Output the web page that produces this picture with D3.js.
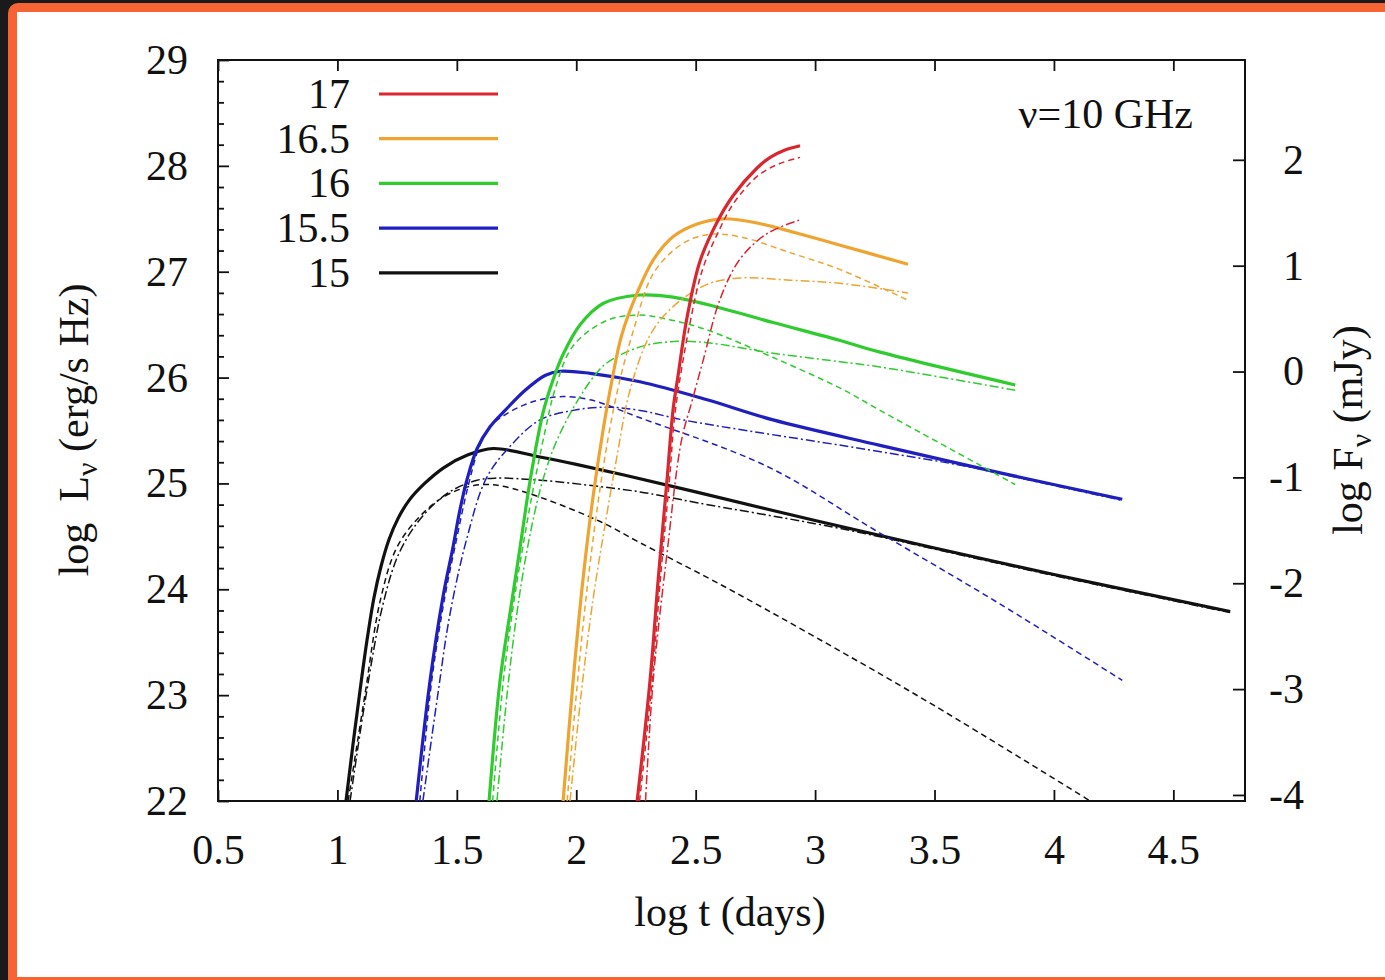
<!DOCTYPE html>
<html lang="en">
<head>
<meta charset="UTF-8">
<title>Radio light curves, nu = 10 GHz</title>
<script src="https://cdnjs.cloudflare.com/ajax/libs/d3/7.8.5/d3.min.js"></script>
<style>
    body { margin: 0; background: #1a1a1a; }
    svg text { font-family: "Liberation Serif", "Times New Roman", serif; fill: #111; }
    .axis text { font-size: 42px; }
    .axis line { stroke: #111; stroke-width: 1.8px; }
</style>
</head>
<body>
<svg id="chart" width="1385" height="980"></svg>
<script>
// legend labels (top to bottom) and x / y tick values
const models = ["17", "16.5", "16", "15.5", "15"];
const xTicks = [0.5, 1, 1.5, 2, 2.5, 3, 3.5, 4, 4.5];
const yTicks = [22, 23, 24, 25, 26, 27, 28, 29];
const y2Ticks = [-4, -3, -2, -1, 0, 1, 2];

// curves: [log t, log L]
const m15_solid = [[1.036,22.0],[1.065,22.53],[1.095,23.05],[1.124,23.52],[1.153,23.92],[1.183,24.22],[1.216,24.47],[1.254,24.67],[1.3,24.84],[1.363,24.995],[1.446,25.15],[1.547,25.27],[1.652,25.33],[1.848,25.25],[2.0,25.18],[2.2,25.08],[2.5,24.92],[3.0,24.65],[3.5,24.39],[4.0,24.14],[4.738,23.79]];
const m15_dash = [[1.045,22.0],[1.115,23.0],[1.18,23.9],[1.25,24.4],[1.35,24.7],[1.45,24.88],[1.55,24.97],[1.626,24.99],[1.7,24.97],[1.848,24.87],[2.1,24.64],[2.267,24.44],[2.6,24.05],[3.0,23.55],[3.5,22.9],[4.152,22.0]];
const m15_dot = [[1.053,22.0],[1.12,23.0],[1.19,23.85],[1.26,24.35],[1.36,24.7],[1.47,24.92],[1.585,25.03],[1.66,25.05],[1.85,25.03],[2.1,24.97],[2.267,24.92],[2.5,24.82],[3.0,24.62],[3.285,24.49],[3.5,24.38],[4.0,24.13],[4.738,23.78]];

const m155_solid = [[1.33,22.0],[1.388,23.14],[1.442,23.93],[1.484,24.4],[1.513,24.75],[1.543,25.04],[1.585,25.33],[1.639,25.535],[1.702,25.69],[1.786,25.88],[1.869,26.02],[1.932,26.06],[2.058,26.04],[2.267,25.96],[2.548,25.79],[2.824,25.6],[3.272,25.36],[3.775,25.1],[4.286,24.85]];
const m155_dash = [[1.345,22.0],[1.395,23.14],[1.45,23.93],[1.492,24.4],[1.55,25.0],[1.6,25.38],[1.65,25.56],[1.71,25.66],[1.78,25.74],[1.848,25.79],[1.932,25.82],[2.058,25.79],[2.267,25.62],[2.8,25.16],[3.25,24.56],[3.775,23.86],[4.286,23.14]];
const m155_dot = [[1.358,22.0],[1.42,23.0],[1.47,23.75],[1.543,24.49],[1.626,25.06],[1.735,25.38],[1.848,25.6],[1.987,25.69],[2.129,25.72],[2.267,25.69],[2.447,25.6],[3.218,25.32],[3.637,25.16],[3.8,25.08],[4.286,24.84]];

const m16_solid = [[1.635,22.0],[1.681,23.14],[1.723,23.78],[1.765,24.4],[1.807,25.03],[1.861,25.67],[1.903,25.98],[1.945,26.22],[2.016,26.5],[2.112,26.7],[2.267,26.78],[2.405,26.76],[2.548,26.69],[2.824,26.52],[3.105,26.35],[3.272,26.24],[3.838,25.93]];
const m16_dash = [[1.65,22.0],[1.695,23.14],[1.74,23.9],[1.78,24.45],[1.82,24.95],[1.87,25.5],[1.91,25.88],[1.987,26.3],[2.129,26.54],[2.267,26.59],[2.405,26.54],[2.548,26.45],[2.824,26.19],[3.105,25.9],[3.272,25.69],[3.838,24.99]];
const m16_dot = [[1.668,22.0],[1.71,23.0],[1.75,23.75],[1.794,24.37],[1.85,24.95],[1.903,25.32],[1.96,25.6],[2.016,25.82],[2.07,26.0],[2.129,26.14],[2.267,26.29],[2.405,26.34],[2.548,26.33],[2.824,26.23],[3.105,26.15],[3.272,26.1],[3.838,25.88]];

const m165_solid = [[1.945,22.0],[1.987,23.14],[2.028,24.09],[2.07,24.87],[2.112,25.5],[2.15,25.98],[2.19,26.4],[2.255,26.8],[2.322,27.11],[2.405,27.33],[2.506,27.45],[2.615,27.5],[2.757,27.46],[3.105,27.25],[3.389,27.07]];
const m165_dash = [[1.962,22.0],[2.0,23.0],[2.045,24.0],[2.09,24.8],[2.135,25.45],[2.18,25.95],[2.24,26.45],[2.322,26.98],[2.435,27.25],[2.548,27.35],[2.686,27.33],[2.895,27.18],[3.105,27.02],[3.389,26.73]];
const m165_dot = [[1.974,22.0],[2.02,23.0],[2.07,23.9],[2.12,24.6],[2.17,25.25],[2.225,25.88],[2.309,26.4],[2.405,26.67],[2.548,26.88],[2.686,26.94],[2.895,26.92],[3.105,26.89],[3.389,26.8]];

const m17_solid = [[2.255,22.0],[2.309,23.14],[2.343,24.09],[2.38,25.03],[2.405,25.69],[2.425,26.0],[2.464,26.57],[2.518,27.1],[2.59,27.47],[2.657,27.72],[2.757,27.98],[2.812,28.08],[2.874,28.15],[2.937,28.19]];
const m17_dash = [[2.265,22.0],[2.318,23.14],[2.352,24.09],[2.39,25.03],[2.415,25.69],[2.475,26.5],[2.53,27.03],[2.6,27.4],[2.657,27.64],[2.757,27.9],[2.85,28.02],[2.937,28.08]];
const m17_dot = [[2.29,22.0],[2.322,23.14],[2.38,24.34],[2.44,25.4],[2.485,25.78],[2.531,26.16],[2.602,26.74],[2.686,27.12],[2.799,27.36],[2.937,27.49]];

const colors = {"17": "#d9262f", "16.5": "#efa431", "16": "#2fcb2f", "15.5": "#1f1fbf", "15": "#111111"};

const curves = [
    {model: "15", kind: "dash", data: m15_dash}, {model: "15", kind: "dot", data: m15_dot}, {model: "15", kind: "solid", data: m15_solid},
    {model: "15.5", kind: "dash", data: m155_dash}, {model: "15.5", kind: "dot", data: m155_dot}, {model: "15.5", kind: "solid", data: m155_solid},
    {model: "16", kind: "dash", data: m16_dash}, {model: "16", kind: "dot", data: m16_dot}, {model: "16", kind: "solid", data: m16_solid},
    {model: "16.5", kind: "dash", data: m165_dash}, {model: "16.5", kind: "dot", data: m165_dot}, {model: "16.5", kind: "solid", data: m165_solid},
    {model: "17", kind: "dash", data: m17_dash}, {model: "17", kind: "dot", data: m17_dot}, {model: "17", kind: "solid", data: m17_solid}
];

const svg = d3.select("#chart");

// slide frame around the figure
svg.append("rect").attr("width", 1385).attr("height", 980).attr("fill", "#1a1a1a");
svg.append("rect").attr("x", 8).attr("y", 3).attr("width", 1420).attr("height", 1000).attr("rx", 10).attr("fill", "#f76433");
svg.append("rect").attr("x", 17).attr("y", 12).attr("width", 1400).attr("height", 965).attr("fill", "#ffffff");

const pL = 218, pR = 1245, pT = 60, pB = 801;
const x = d3.scaleLinear().domain([0.5, 4.8]).range([pL, pR]);
const y = d3.scaleLinear().domain([22, 29]).range([pB, pT]);
const y2 = d3.scaleLinear().domain([-4.057, 2.943]).range([pB, pT]);
const fmt = d => String(d);

svg.append("clipPath").attr("id", "plot")
    .append("rect").attr("x", pL).attr("y", pT).attr("width", pR - pL).attr("height", pB - pT);

// axes (ticks point inwards)
svg.append("g").attr("class", "axis").attr("transform", `translate(0,${pB})`)
    .call(d3.axisBottom(x).tickValues(xTicks).tickSize(-11).tickPadding(33).tickFormat(fmt));
svg.append("g").attr("class", "axis").attr("transform", `translate(0,${pT})`)
    .call(d3.axisTop(x).tickValues(xTicks).tickSize(-11).tickFormat(""));
svg.append("g").attr("class", "axis").attr("transform", `translate(${pL},0)`)
    .call(d3.axisLeft(y).tickValues(yTicks).tickSize(-11).tickPadding(30).tickFormat(fmt));
const minor = d3.range(22, 29.001, 0.2).filter(v => Math.abs(v - Math.round(v)) > 0.01);
svg.append("g").attr("class", "axis").attr("transform", `translate(${pL},0)`)
    .call(d3.axisLeft(y).tickValues(minor).tickSize(-6).tickFormat(""));
svg.append("g").attr("class", "axis").attr("transform", `translate(${pR},0)`)
    .call(d3.axisRight(y2).tickValues(y2Ticks).tickSize(-12).tickPadding(59).tickFormat(fmt))
    .selectAll("text").attr("text-anchor", "end");
svg.selectAll(".axis .domain").remove();

svg.append("rect").attr("x", pL).attr("y", pT).attr("width", pR - pL).attr("height", pB - pT)
    .attr("fill", "none").attr("stroke", "#111").attr("stroke-width", 2);

// curves
const line = d3.line().x(d => x(d[0])).y(d => y(d[1])).curve(d3.curveCatmullRom.alpha(0.5));
const dash = {solid: null, dash: "6,4", dot: "9,3,2,3"};
const lw = {solid: 3.2, dash: 1.5, dot: 1.5};

svg.append("g").attr("clip-path", "url(#plot)")
    .selectAll("path").data(curves).join("path")
    .attr("d", d => line(d.data))
    .attr("fill", "none")
    .attr("stroke", d => colors[d.model])
    .attr("stroke-width", d => lw[d.kind])
    .attr("stroke-dasharray", d => dash[d.kind])
    .attr("stroke-linejoin", "round");

// legend
const legend = svg.append("g").selectAll("g").data(models).join("g")
    .attr("transform", (d, i) => `translate(0,${94 + i * 44.7})`);
legend.append("text").attr("x", 350).attr("y", 14).attr("text-anchor", "end")
    .style("font-size", "42px").text(d => d);
legend.append("line").attr("x1", 379).attr("x2", 498)
    .attr("stroke", d => colors[d]).attr("stroke-width", 3.2);

svg.append("text").attr("x", 1193).attr("y", 128).attr("text-anchor", "end")
    .style("font-size", "42px").text("ν=10 GHz");

// axis titles
svg.append("text").attr("x", 730).attr("y", 926).attr("text-anchor", "middle")
    .style("font-size", "42px").text("log t (days)");

const yl = svg.append("text").attr("transform", "translate(88,430) rotate(-90)")
    .attr("text-anchor", "middle").style("font-size", "42px").attr("xml:space", "preserve");
yl.append("tspan").text("log  L");
yl.append("tspan").attr("dy", 9).style("font-size", "30px").text("ν");
yl.append("tspan").attr("dy", -9).text(" (erg/s Hz)");

const yr = svg.append("text").attr("transform", "translate(1362,430) rotate(-90)")
    .attr("text-anchor", "middle").style("font-size", "42px").attr("xml:space", "preserve");
yr.append("tspan").text("log F");
yr.append("tspan").attr("dy", 9).style("font-size", "30px").text("ν");
yr.append("tspan").attr("dy", -9).text(" (mJy)");
</script>
</body>
</html>
